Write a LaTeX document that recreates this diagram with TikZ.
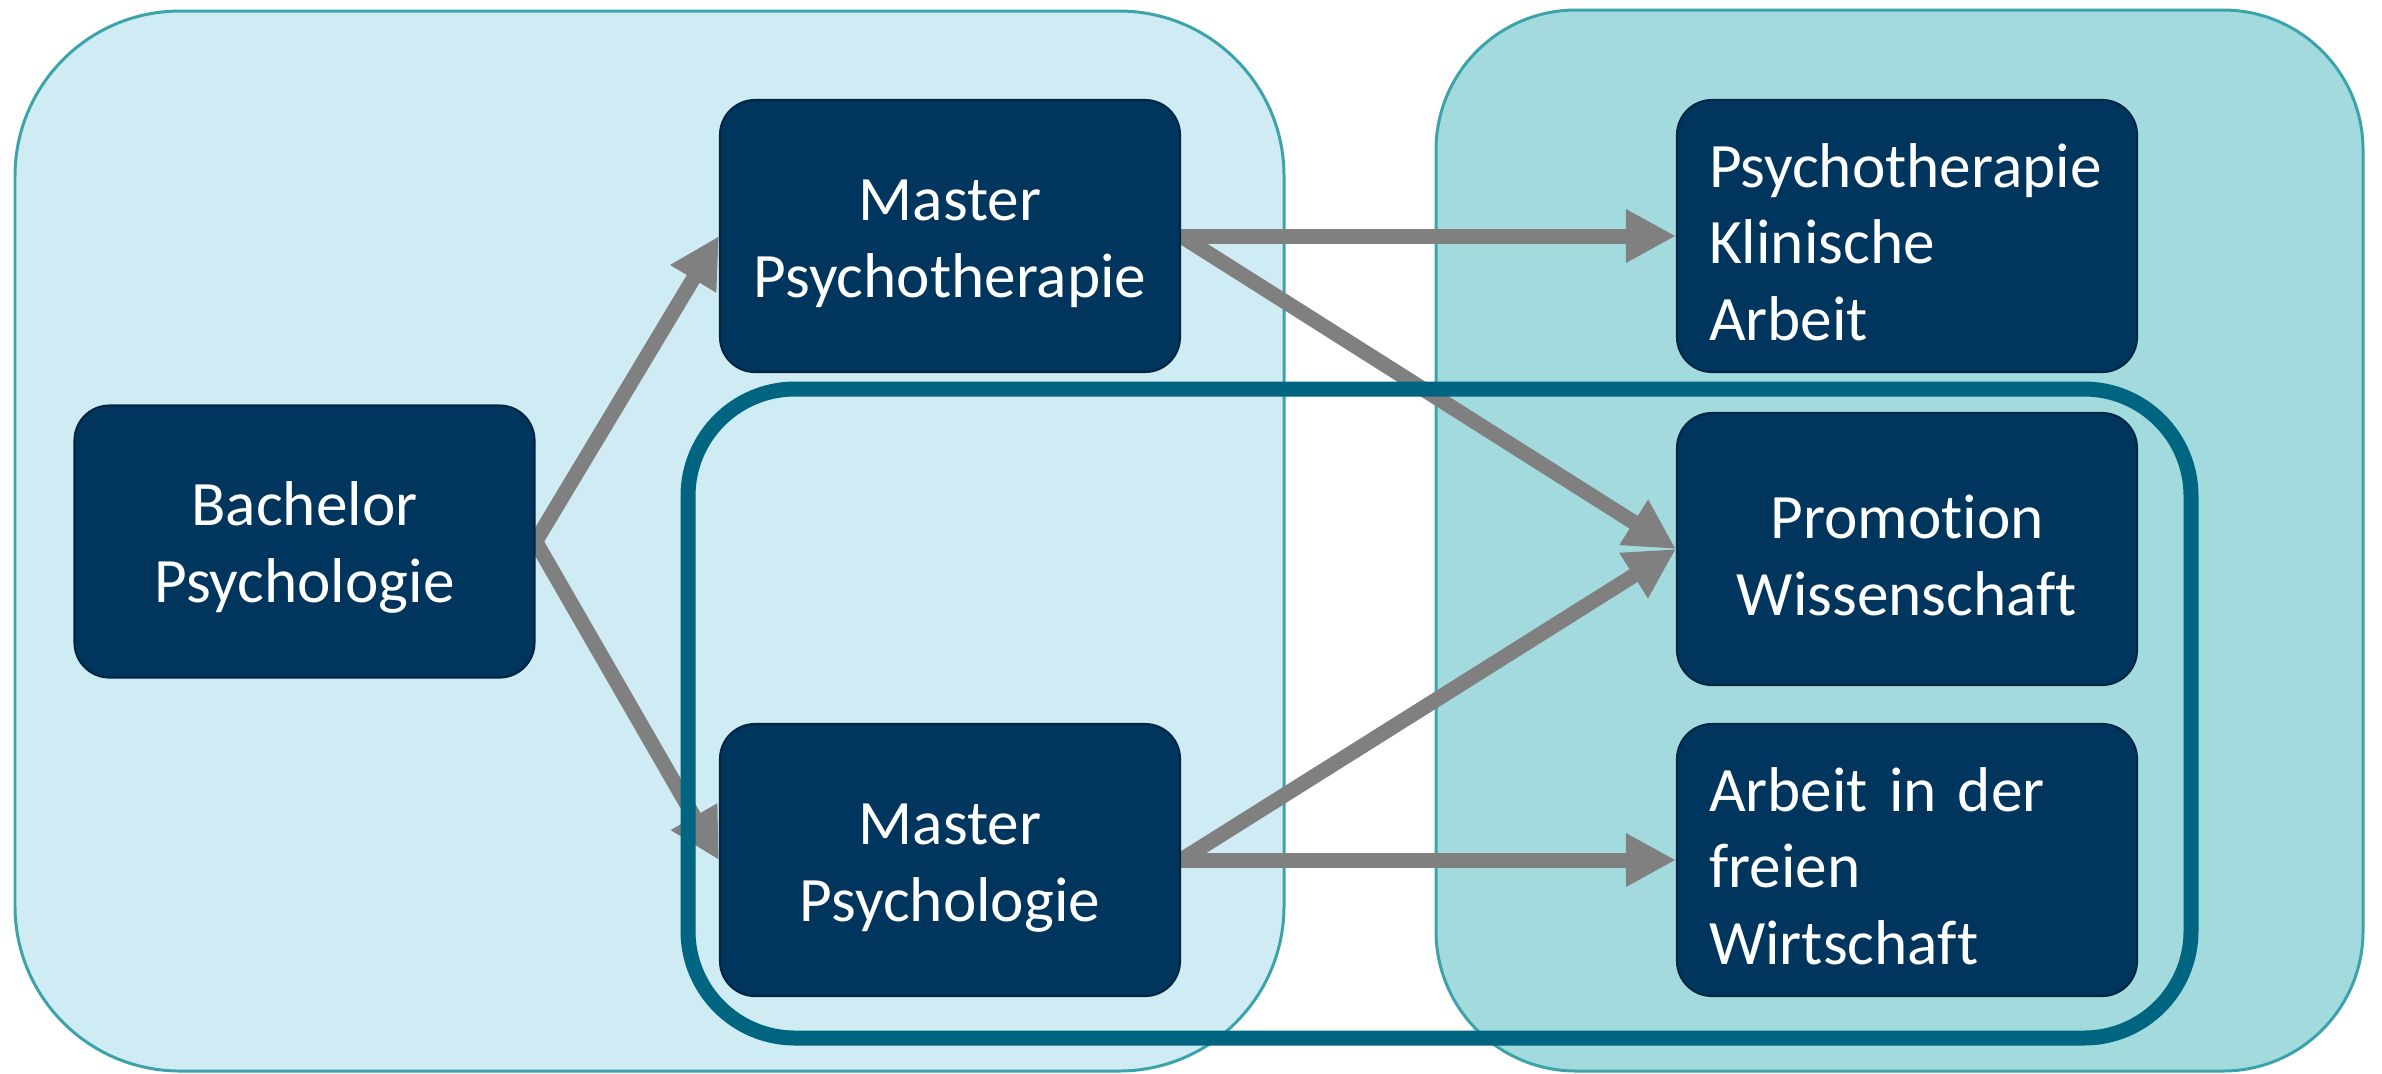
\documentclass[tikz,border=0pt]{standalone}
\usepackage{fontspec}
\setmainfont{Carlito}[Ligatures={NoCommon}, WordSpace=0.85]
\usetikzlibrary{arrows.meta}
\definecolor{lightfill}{RGB}{207,235,243}
\definecolor{rightfill}{RGB}{163,218,222}
\definecolor{regionline}{RGB}{60,163,170}
\definecolor{ringcol}{RGB}{0,101,128}
\definecolor{navy}{RGB}{0,54,93}
\definecolor{navyline}{RGB}{0,38,68}
\definecolor{arrgray}{RGB}{128,128,128}
\pgfdeclarelayer{bg}
\pgfdeclarelayer{arrlayer}
\pgfdeclarelayer{ringlayer}
\pgfsetlayers{bg,arrlayer,ringlayer,main}
\newcommand{\topstrut}{\rule{0pt}{16pt}}
\tikzset{
  region/.style={draw=regionline, line width=0.85pt},
  darkbox/.style={fill=navy, draw=navyline, line width=0.6pt, rounded corners=0.35cm,
    minimum width=4.6cm, minimum height=2.72cm, text=white, inner sep=0pt,
    font=\fontsize{18}{21.8}\selectfont, align=center},
  leftbox/.style={darkbox, text width=3.96cm, inner xsep=0.32cm, align=left},
  arr/.style={draw=arrgray, line width=0.15cm, -{Triangle[length=0.5cm, width=0.5cm]}, fill=arrgray},
  ringline/.style={draw=ringcol, line width=0.15cm}
}
\begin{document}
\begin{tikzpicture}
\useasboundingbox (0,0) rectangle (23.82,-10.73);
% nodes
\node[darkbox] (bach) at (3.045,-5.415) {\topstrut Bachelor\\Psychologie};
\node[darkbox] (mpt) at (9.50,-2.36) {\topstrut Master\\Psychotherapie};
\node[darkbox] (mps) at (9.50,-8.60) {\topstrut Master\\Psychologie};
\node[leftbox] (klin) at (19.07,-2.36) {\topstrut Psychotherapie\\Klinische\\Arbeit};
\node[darkbox] (prom) at (19.07,-5.49) {\topstrut Promotion\\Wissenschaft};
\node[leftbox] (arb) at (19.07,-8.60) {\topstrut Arbeit in der\\freien\\Wirtschaft};
% regions
\begin{pgfonlayer}{bg}
\draw[region, fill=lightfill, rounded corners=1.65cm] (0.15,-0.11) rectangle (12.84,-10.71);
\draw[region, fill=rightfill, rounded corners=1.4cm] (14.36,-0.10) rectangle (23.63,-10.71);
\end{pgfonlayer}
% arrows
\begin{pgfonlayer}{arrlayer}
\draw[arr] (bach.east) -- (mpt.west);
\draw[arr] (bach.east) -- (mps.west);
\draw[arr] (mpt.east) -- (klin.west);
\draw[arr] (mpt.east) -- (prom.west);
\draw[arr] (mps.east) -- (prom.west);
\draw[arr] (mps.east) -- (arb.west);
\end{pgfonlayer}
% ring
\begin{pgfonlayer}{ringlayer}
\draw[ringline, rounded corners=1.07cm] (6.88,-3.89) rectangle (21.91,-10.38);
\end{pgfonlayer}
\end{tikzpicture}
\end{document}
